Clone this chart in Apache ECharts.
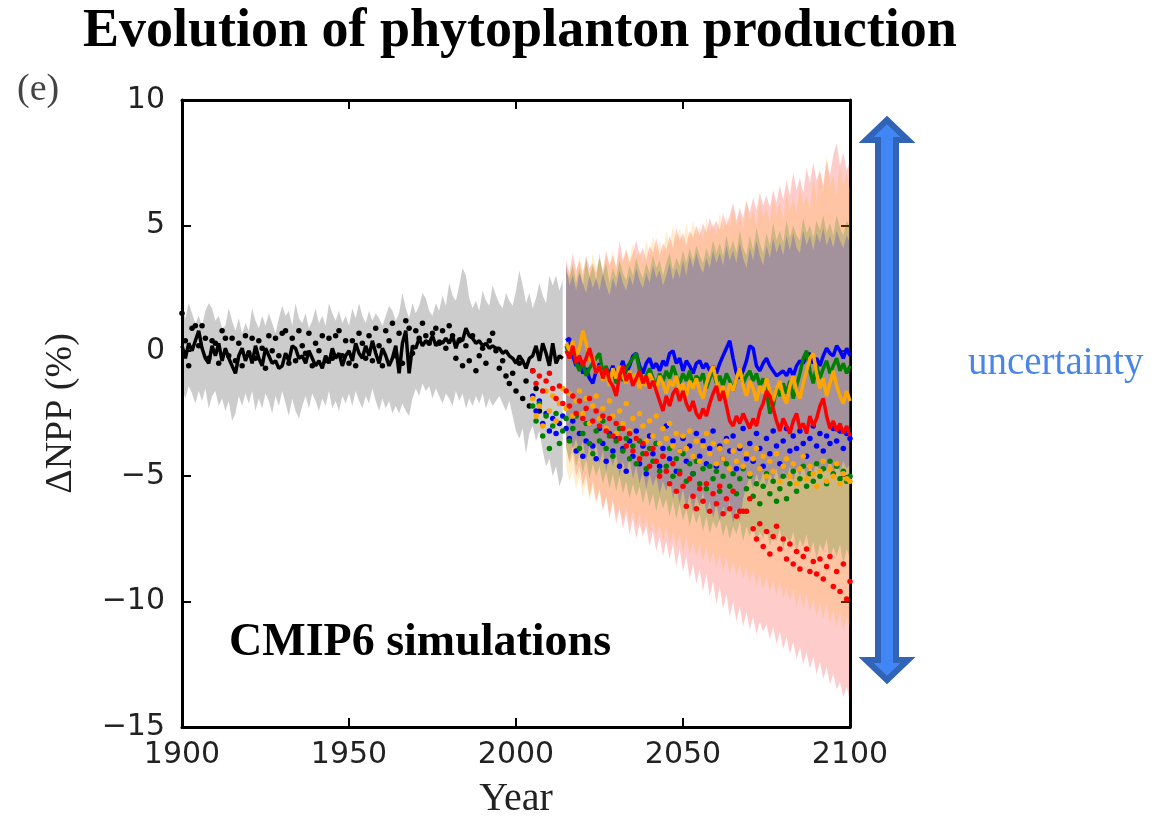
<!DOCTYPE html>
<html>
<head>
<meta charset="utf-8">
<script src="https://cdn.jsdelivr.net/npm/echarts@6/dist/echarts.min.js"></script>
<style>
html,body{margin:0;padding:0;background:#fff;}
#chart{width:1156px;height:827px;}
</style>
</head>
<body>
<div id="chart"></div>
<script>
// ---------- DATA ----------
const histStart = 1900;      // historical period 1900-2014
const futStart = 2015;       // projections 2015-2100
const dotStart = 2005;       // scenario dots 2005-2100
const xTicks = [1900, 1950, 2000, 2050, 2100];
const yTicks = [-15, -10, -5, 0, 5, 10];

const histLine = [0.2,-0.3,0.3,0.0,0.4,0.8,0.1,-0.3,-0.5,0.2,
 -0.2,0.3,-0.4,0.1,-0.3,-0.6,-0.9,-0.2,0.1,-0.4,
 0.0,-0.5,0.2,-0.3,-0.6,0.1,-0.2,-0.5,-0.4,-0.7,
 -0.6,-0.1,-0.4,0.2,0.1,-0.3,-0.2,-0.5,0.0,-0.3,
 -0.6,-0.4,-0.7,-0.2,-0.5,0.1,-0.3,-0.1,-0.6,-0.2,
 0.0,-0.4,0.3,-0.1,-0.3,0.2,-0.2,0.4,-0.1,-0.5,
 0.1,-0.2,-0.6,-0.3,0.2,-0.9,0.3,0.8,-0.9,0.2,
 0.1,0.5,0.2,0.4,0.3,0.6,0.2,0.4,0.3,0.5,
 0.3,0.6,0.1,0.5,0.4,0.9,0.6,0.5,0.3,0.4,
 0.2,0.3,0.1,0.2,0.1,0.1,-0.1,0.0,-0.2,-0.3,
 -0.5,-0.2,-0.4,-0.7,-0.3,-0.2,0.2,-0.4,0.3,-0.1,
 -0.6,0.3,-0.5,-0.2,-0.3];
const histUp = [1.8,1.3,1.9,1.5,1.1,1.4,1.0,1.6,1.9,1.7,
 1.2,1.4,0.9,1.0,1.7,1.2,0.8,1.3,0.7,1.1,
 0.8,1.7,1.2,0.9,1.4,1.0,1.5,1.1,0.7,1.3,
 1.8,1.4,1.6,1.0,1.9,1.3,1.1,1.5,0.9,1.2,
 1.7,1.1,1.4,1.0,1.9,1.5,1.2,1.6,1.1,1.4,
 1.0,1.7,1.3,1.9,1.4,1.1,1.6,1.2,1.5,1.3,
 1.0,1.4,1.8,1.6,1.2,1.5,2.3,1.7,1.3,1.9,
 1.5,1.8,2.3,2.1,1.6,1.4,1.9,1.6,2.2,1.8,
 2.7,2.2,2.0,2.6,3.3,3.0,2.1,1.7,2.0,1.6,
 2.4,2.0,1.8,2.6,2.2,1.9,1.7,2.3,2.0,1.8,
 2.4,3.2,2.6,1.9,2.3,1.7,2.1,2.7,2.2,1.9,
 3.0,2.6,3.0,2.4,2.8];
const histLo = [-1.5,-1.9,-1.4,-1.7,-2.1,-1.6,-2.0,-1.5,-2.3,-1.8,
 -1.6,-2.2,-1.9,-2.4,-2.0,-2.8,-2.5,-1.8,-2.2,-1.7,
 -2.1,-1.6,-2.4,-1.9,-2.3,-1.7,-2.0,-2.5,-1.8,-2.2,
 -1.6,-2.1,-2.6,-1.9,-2.4,-2.7,-2.2,-1.8,-2.3,-1.7,
 -2.0,-2.4,-1.9,-2.2,-1.6,-2.3,-2.0,-2.4,-1.8,-2.1,
 -1.7,-2.2,-1.6,-2.0,-2.3,-1.8,-2.1,-1.5,-2.0,-2.4,
 -1.9,-2.3,-2.0,-2.5,-2.2,-2.5,-2.1,-2.4,-2.6,-1.9,
 -1.5,-1.8,-1.3,-1.6,-1.4,-1.9,-1.5,-1.8,-2.1,-1.7,
 -1.9,-2.2,-1.6,-2.0,-1.7,-2.3,-1.9,-2.2,-1.8,-2.1,
 -1.7,-2.3,-1.9,-2.2,-2.0,-1.8,-2.1,-2.4,-2.0,-2.6,
 -3.2,-3.5,-3.1,-4.1,-3.3,-3.0,-3.6,-3.2,-4.0,-4.6,
 -4.3,-5.0,-4.6,-5.4,-5.0];
const histDots = [1.5,0.4,-0.6,0.9,1.0,0.2,1.0,0.5,-0.3,0.4,
 0.3,-0.5,0.8,0.5,-0.2,0.5,-0.4,0.3,-0.6,0.6,
 -0.1,0.5,-0.3,0.4,0.1,-0.7,0.6,0.0,0.5,-0.2,
 0.7,0.8,-0.5,0.5,-0.4,0.8,0.2,-0.1,0.7,-0.6,
 0.3,0.0,0.6,-0.4,0.5,-0.3,0.6,0.8,-0.2,0.4,
 -0.5,0.4,-0.6,0.7,0.3,-0.3,0.6,-0.4,0.9,0.2,
 -0.6,0.8,0.4,1.1,-0.2,0.7,-0.5,1.2,0.9,-0.1,
 0.8,0.5,1.1,0.6,0.3,0.7,0.9,0.3,0.8,0.1,
 1.0,0.6,-0.3,0.4,-0.6,0.2,-0.4,0.6,-0.8,-0.2,
 0.1,-0.5,0.4,0.7,0.0,-0.7,-0.4,-1.0,-1.3,-0.9,
 -1.6,-0.5,-1.9,-1.2,-2.2,-0.8,-1.5,-2.4];

const blueLine = [0.4,0.5,-0.2,-0.6,-0.3,-0.9,-0.7,-1.1,-1.3,-0.8,
 -0.5,-1.0,-0.7,-0.9,-0.6,-1.0,-0.8,-0.4,-0.9,-0.6,
 -0.2,-0.1,-0.6,-0.9,-0.5,-0.3,-0.7,-0.5,-0.8,-0.4,
 -0.6,-0.1,0.0,-0.5,-0.3,-0.8,-0.4,-0.6,-0.9,-0.5,
 -0.4,-0.7,-0.5,-0.8,-0.6,-0.9,-0.5,-0.2,0.1,0.4,
 -0.3,-0.9,-1.1,-0.8,-0.4,0.2,0.1,-0.6,-0.8,-0.5,
 -0.3,-0.6,-0.8,-1.0,-0.9,-0.8,-1.0,-0.7,-1.0,-0.6,
 -0.4,-0.5,-0.2,-0.1,-0.5,-0.3,-0.6,-0.2,0.1,-0.1,
 -0.2,0.2,0.0,-0.3,0.1,-0.2];
const greenLine = [0.2,-0.3,0.1,-0.5,-0.8,-0.4,-1.0,-0.7,-0.5,-0.3,
 -0.1,-0.9,-0.6,-1.1,-0.8,-1.3,-0.9,-1.2,-0.7,-0.5,
 -0.3,-0.1,-0.8,-1.2,-1.0,-0.7,-1.1,-1.4,-0.9,-1.2,
 -0.8,-1.1,-0.6,-1.0,-1.3,-0.9,-1.2,-0.8,-1.4,-1.0,
 -1.2,-0.9,-1.5,-1.1,-0.8,-1.3,-1.0,-1.4,-0.9,-1.2,
 -1.6,-1.1,-0.7,-1.3,-1.0,-0.8,-1.2,-0.9,-1.4,-1.1,
 -1.6,-2.5,-2.2,-1.5,-1.8,-1.3,-1.7,-1.2,-1.9,-1.4,
 -0.9,-0.3,0.0,-0.8,-1.3,-0.6,-1.1,-0.7,-0.4,-0.9,
 -0.6,-0.3,-0.8,-0.5,-0.9,-0.6];
const orangeLine = [0.3,0.0,0.4,-0.2,0.1,0.8,0.3,-0.4,-0.2,-0.9,
 -0.6,-1.2,-0.8,-1.4,-0.7,-1.1,-0.6,-1.0,-1.3,-0.8,
 -1.2,-0.9,-1.5,-1.1,-1.4,-0.9,-1.2,-1.6,-1.0,-1.3,
 -1.7,-1.2,-1.4,-1.0,-1.6,-1.3,-1.8,-1.2,-1.5,-1.1,
 -1.6,-1.9,-1.3,-0.9,-0.6,-1.2,-1.7,-1.4,-1.9,-1.3,
 -1.6,-1.1,-0.7,-1.4,-1.8,-1.2,-1.5,-2.0,-1.4,-1.7,
 -1.1,-1.6,-2.0,-1.5,-1.2,-1.8,-2.1,-1.4,-1.0,-1.6,
 -1.9,-1.3,-0.8,-0.3,-0.1,-0.9,-1.5,-1.1,-1.8,-1.3,
 -0.8,-1.4,-1.8,-2.1,-1.6,-2.0];
const redLine = [0.0,-0.3,0.2,-0.5,-0.2,-0.6,-0.3,0.1,-0.4,-0.9,
 -0.6,-1.1,-0.7,-1.2,-1.4,-1.8,-1.0,-0.6,-1.2,-0.9,
 -1.4,-1.1,-0.8,-1.3,-1.0,-1.5,-1.2,-1.6,-2.0,-2.4,
 -1.8,-2.2,-1.7,-1.5,-2.0,-1.6,-2.1,-2.4,-2.0,-2.5,
 -2.7,-2.3,-2.6,-2.1,-1.7,-1.4,-2.0,-1.6,-2.2,-2.8,
 -3.0,-2.6,-2.9,-2.5,-2.8,-3.1,-2.7,-3.0,-2.4,-2.1,
 -1.6,-1.8,-2.3,-2.8,-3.2,-2.7,-3.0,-3.3,-2.8,-2.5,
 -3.1,-2.9,-3.3,-2.6,-3.0,-2.7,-2.2,-1.9,-2.6,-3.1,
 -2.8,-3.2,-2.9,-3.3,-3.0,-3.4];

const blueDots = [-1.8,-2.4,-2.0,-2.9,-2.5,-3.2,-2.7,-3.3,-2.9,-2.6,
 -3.1,-3.5,-2.8,-4.0,-3.3,-4.2,-3.6,-2.9,-3.8,-4.3,
 -3.1,-3.7,-4.4,-3.3,-4.0,-3.5,-4.6,-3.9,-4.8,-3.6,
 -4.2,-3.2,-4.5,-3.8,-4.9,-3.4,-4.1,-3.7,-4.6,-3.9,
 -3.0,-4.3,-3.6,-4.8,-4.0,-3.5,-4.4,-3.8,-4.9,-3.3,
 -4.2,-3.6,-4.5,-3.9,-3.2,-4.6,-3.8,-4.3,-3.5,-4.0,
 -3.4,-4.7,-3.9,-3.1,-4.3,-3.7,-4.4,-3.3,-3.9,-4.6,
 -3.5,-4.1,-3.2,-3.8,-4.5,-3.6,-3.1,-4.0,-3.4,-3.9,
 -3.2,-3.7,-4.2,-3.5,-3.0,-3.8,-3.3,-4.0,-3.4,-3.7,
 -3.1,-3.6,-3.2,-3.9,-3.3,-3.5];
const greenDots = [-2.2,-2.8,-2.1,-3.4,-2.6,-3.9,-3.0,-2.5,-3.7,-3.2,
 -2.7,-3.6,-3.1,-2.6,-3.9,-3.3,-2.9,-3.7,-4.1,-3.2,
 -3.6,-2.8,-3.9,-3.4,-4.2,-3.6,-3.1,-4.0,-3.5,-4.3,
 -3.8,-4.5,-3.6,-4.1,-4.7,-3.9,-4.4,-3.7,-4.8,-4.2,
 -4.6,-3.9,-5.0,-4.3,-4.8,-4.1,-5.2,-4.5,-4.9,-4.4,
 -5.3,-4.7,-5.5,-4.6,-5.1,-4.8,-5.6,-5.0,-4.5,-5.4,
 -4.9,-5.7,-5.1,-4.7,-5.5,-5.0,-5.8,-5.3,-6.1,-5.4,
 -4.9,-5.7,-5.2,-6.0,-5.5,-5.0,-5.9,-5.3,-4.8,-5.6,
 -5.1,-4.6,-5.4,-4.9,-5.2,-4.5,-5.0,-4.7,-5.3,-4.4,
 -4.9,-4.6,-5.1,-4.8,-5.2,-5.0];
const orangeDots = [-1.9,-2.6,-2.2,-3.0,-1.6,-2.4,-1.8,-2.8,-2.1,-1.5,
 -2.3,-1.7,-2.6,-2.0,-1.6,-2.5,-1.9,-2.9,-2.2,-1.8,
 -2.7,-2.3,-3.1,-2.0,-2.6,-3.3,-2.4,-2.9,-2.1,-3.2,
 -2.7,-3.5,-2.5,-3.0,-3.6,-2.8,-3.4,-2.6,-3.7,-3.1,
 -3.5,-2.9,-3.8,-3.3,-4.0,-3.4,-3.9,-3.2,-4.2,-3.6,
 -4.4,-3.8,-3.3,-4.1,-3.7,-4.5,-3.9,-4.3,-3.6,-4.7,
 -4.0,-4.4,-3.8,-4.6,-4.1,-4.9,-4.3,-3.9,-4.7,-4.2,
 -5.0,-4.4,-4.8,-4.1,-5.2,-4.6,-4.3,-5.0,-4.5,-5.3,
 -4.7,-4.2,-5.1,-4.6,-4.9,-5.4,-4.8,-4.4,-5.2,-4.7,
 -5.0,-4.5,-5.3,-4.9,-5.1,-5.2];
const redDots = [-0.8,-1.3,-1.0,-1.6,-1.2,-0.9,-1.5,-1.9,-1.4,-2.1,
 -1.6,-2.2,-1.8,-2.5,-2.0,-2.7,-2.3,-1.9,-2.8,-2.4,
 -3.0,-2.6,-3.2,-2.7,-3.4,-2.9,-3.5,-3.1,-3.8,-3.3,
 -4.0,-3.5,-4.3,-3.7,-4.1,-4.6,-3.9,-4.4,-5.0,-4.2,
 -4.8,-5.3,-4.5,-5.6,-4.9,-5.4,-6.2,-5.1,-5.8,-6.3,
 -5.5,-6.0,-5.3,-6.4,-5.7,-6.1,-5.4,-6.5,-5.9,-6.3,
 -5.6,-6.6,-6.4,-6.4,-6.4,-5.9,-7.1,-7.5,-6.9,-7.8,
 -7.2,-8.1,-7.4,-7.0,-7.9,-7.5,-8.3,-7.7,-8.5,-8.0,
 -8.7,-8.2,-7.9,-8.8,-8.4,-8.9,-8.3,-9.1,-8.6,-8.2,
 -9.4,-8.8,-9.6,-8.5,-9.9,-9.2];

const blueUp = [3.4,2.6,3.0,2.4,3.1,2.7,2.3,3.0,2.5,2.9,
 2.4,3.1,2.6,2.2,2.9,2.5,3.2,2.7,2.4,3.0,
 2.6,3.3,2.8,2.5,3.1,2.7,3.4,2.9,3.2,2.6,
 3.0,3.5,2.8,3.3,2.9,3.6,3.0,3.8,3.3,3.9,
 3.4,3.1,3.7,3.3,4.0,3.5,3.9,3.4,4.2,3.6,
 4.0,3.5,4.3,3.7,3.3,4.1,3.6,4.4,3.8,3.4,
 4.2,3.7,4.5,3.9,4.3,3.8,4.6,4.0,4.7,4.1,
 3.9,4.8,4.2,4.6,4.0,4.7,4.3,4.9,4.2,4.6,
 4.1,4.8,4.4,4.1,4.6,4.3];
const blueLo = [-3.7,-3.3,-3.9,-3.5,-4.1,-3.6,-4.4,-3.8,-4.2,-3.7,
 -4.5,-4.0,-4.8,-4.2,-4.6,-4.1,-5.0,-4.4,-4.9,-4.3,
 -5.1,-4.6,-5.3,-4.8,-5.5,-4.9,-5.4,-5.0,-5.7,-5.2,
 -5.6,-5.1,-5.9,-5.4,-6.1,-5.5,-6.3,-5.7,-6.4,-5.8,
 -6.2,-5.6,-6.5,-6.0,-6.7,-6.1,-6.8,-6.2,-6.6,-6.0,
 -6.9,-6.3,-6.8,-5.9,-5.4,-5.0,-5.5,-4.9,-5.3,-4.8,
 -5.4,-4.9,-5.2,-4.7,-5.3,-4.8,-5.1,-4.6,-5.2,-4.7,
 -5.0,-4.5,-5.1,-4.6,-4.9,-4.4,-5.0,-4.6,-4.8,-4.3,
 -4.9,-4.5,-4.8,-4.4,-4.7,-4.5];
const greenUp = [3.2,2.9,3.4,2.7,3.3,2.6,3.7,2.9,3.4,2.8,
 3.9,3.0,3.5,2.7,3.3,2.9,3.6,3.1,2.8,3.4,
 3.0,3.7,3.2,2.9,3.5,3.1,3.8,3.3,3.6,3.0,
 3.5,3.9,3.2,3.7,3.4,4.0,3.5,4.1,3.6,4.2,
 3.8,3.5,4.1,3.7,4.4,3.9,4.3,3.8,4.6,4.0,
 4.4,3.9,4.8,4.1,3.8,4.6,4.0,4.9,4.3,3.9,
 4.7,4.2,5.1,4.4,4.8,4.3,5.2,4.5,5.0,4.6,
 4.4,5.3,4.7,5.0,4.5,5.2,4.8,5.4,4.7,5.1,
 4.6,5.4,4.9,4.6,5.2,4.9];
const greenLo = [-3.9,-4.4,-3.8,-4.6,-4.1,-4.9,-4.3,-5.1,-4.5,-5.0,
 -4.6,-5.3,-4.8,-5.5,-4.9,-5.6,-5.0,-5.7,-5.2,-5.9,
 -5.3,-5.8,-5.4,-6.1,-5.5,-6.2,-5.7,-6.4,-5.8,-6.3,
 -5.9,-6.6,-6.0,-6.7,-6.1,-6.8,-6.3,-7.0,-6.4,-6.9,
 -6.5,-7.2,-6.6,-7.3,-6.8,-7.1,-6.7,-7.4,-6.9,-7.5,
 -7.0,-7.3,-6.8,-7.6,-7.0,-7.4,-6.9,-7.7,-7.2,-7.5,
 -7.0,-7.8,-7.3,-7.6,-7.1,-7.9,-7.4,-7.7,-7.2,-8.0,
 -7.5,-7.8,-7.3,-8.1,-7.6,-8.3,-7.7,-8.0,-7.5,-8.4,
 -7.8,-8.2,-7.7,-8.5,-7.9,-8.3];
const orangeUp = [3.5,3.0,3.6,2.9,3.8,3.2,3.5,3.0,3.9,3.3,
 3.7,3.1,3.8,3.4,4.0,3.3,3.9,3.5,4.1,3.6,
 4.3,3.7,4.0,3.5,4.4,3.8,4.6,4.0,4.4,3.9,
 4.8,4.2,5.0,4.4,4.9,4.3,5.1,4.5,5.2,4.6,
 5.0,4.4,5.3,4.7,5.1,4.6,5.5,4.8,5.4,4.9,
 5.7,5.0,5.5,4.8,5.9,5.2,5.6,5.0,6.0,5.3,
 5.7,5.1,6.2,5.4,5.9,5.2,6.3,5.6,6.1,5.5,
 6.5,5.8,6.2,5.6,6.9,6.0,7.2,6.3,7.8,6.5,
 7.0,6.2,7.4,6.6,7.1,6.4];
const orangeLo = [-4.6,-5.2,-4.8,-5.5,-5.0,-5.8,-5.2,-6.0,-5.4,-6.1,
 -5.6,-6.3,-5.8,-6.5,-5.9,-6.6,-6.1,-6.8,-6.2,-6.9,
 -6.4,-7.0,-6.5,-7.2,-6.6,-7.3,-6.8,-7.4,-6.9,-7.6,
 -7.0,-7.7,-7.2,-7.8,-7.3,-8.0,-7.4,-8.1,-7.6,-8.2,
 -7.7,-8.4,-7.8,-8.5,-8.0,-8.6,-8.1,-8.8,-8.2,-8.9,
 -8.4,-9.0,-8.5,-9.1,-8.6,-9.3,-8.7,-9.4,-8.9,-9.5,
 -9.0,-9.6,-9.1,-9.8,-9.2,-9.9,-9.4,-10.0,-9.5,-10.2,
 -9.6,-10.3,-9.7,-10.4,-9.9,-10.6,-10.0,-10.7,-10.1,-10.9,
 -10.3,-11.0,-10.4,-11.2,-10.6,-11.0];
const redUp = [3.6,3.1,3.9,3.2,3.6,3.0,3.8,3.3,3.5,3.1,
 3.7,3.2,4.0,3.4,3.8,3.3,4.4,3.6,4.0,3.5,
 3.9,4.4,3.8,4.1,3.6,4.2,3.9,4.5,3.8,4.3,
 4.0,4.6,4.1,4.9,4.4,4.7,4.2,4.8,4.5,5.0,
 4.6,5.1,4.7,5.3,4.9,5.2,4.8,5.5,5.0,5.4,
 5.9,5.2,5.7,5.3,6.0,5.5,6.1,5.6,6.3,5.8,
 6.2,5.7,6.4,5.9,6.6,6.0,6.8,6.2,7.1,6.4,
 6.9,6.3,7.3,6.7,7.5,6.8,7.2,6.6,7.6,7.0,
 7.8,8.3,7.4,7.9,7.2,7.6];
const redLo = [-3.8,-4.5,-4.1,-5.0,-4.6,-5.4,-4.9,-5.8,-5.2,-6.0,
 -5.5,-6.4,-5.8,-6.7,-6.0,-6.9,-6.3,-7.1,-6.5,-7.3,
 -6.7,-7.5,-6.9,-7.4,-7.0,-7.8,-7.2,-8.0,-7.4,-8.2,
 -7.6,-8.3,-7.7,-8.6,-7.9,-8.8,-8.2,-9.1,-8.5,-9.3,
 -8.7,-9.6,-8.9,-9.8,-9.2,-10.1,-9.4,-10.3,-9.7,-10.6,
 -10.0,-10.8,-10.2,-11.0,-10.4,-11.1,-10.6,-11.3,-10.8,-11.2,
 -10.9,-11.5,-11.0,-11.7,-11.2,-11.9,-11.4,-12.1,-11.6,-12.3,
 -11.8,-12.5,-12.0,-12.7,-12.2,-12.9,-12.4,-13.1,-12.6,-13.3,
 -12.9,-13.5,-13.2,-13.8,-13.4,-14.0];

// ---------- CHART ----------
const pairs = (start, vals) => vals.map((v, i) => [start + i, v]);
const serifFont = '"Liberation Serif", "DejaVu Serif", serif';
const sansFont = '"DejaVu Sans", sans-serif';
const minus = v => (v < 0 ? '\u2212' + Math.abs(v) : String(v));

function band(name, start, lo, up, fill, z) {
  return {
    type: 'custom', name: name, silent: true, z: z,
    coordinateSystem: 'cartesian2d',
    data: lo.map((v, i) => [start + i, v, up[i]]),
    encode: { x: 0, y: [1, 2] },
    renderItem: function (params, api) {
      if (params.dataIndex !== 0) return null;
      const pts = [];
      for (let i = 0; i < up.length; i++) pts.push(api.coord([start + i, up[i]]));
      for (let i = lo.length - 1; i >= 0; i--) pts.push(api.coord([start + i, lo[i]]));
      return { type: 'polygon', shape: { points: pts }, style: { fill: fill } };
    }
  };
}
function line(name, start, vals, color, width, z) {
  return { type: 'line', name: name, data: pairs(start, vals), showSymbol: false, symbol: 'none',
    lineStyle: { color: color, width: width }, itemStyle: { color: color }, z: z, silent: true };
}
function dots(name, start, vals, color, z) {
  return { type: 'scatter', name: name, data: pairs(start, vals), symbolSize: 5.5,
    itemStyle: { color: color, opacity: 1 }, z: z, silent: true };
}

const axisLine = { show: true, onZero: false, lineStyle: { color: '#000', width: 3 } };
const axisTick = { show: true, inside: true, length: 9, lineStyle: { color: '#000', width: 2 } };

const chart = echarts.init(document.getElementById('chart'), null, { renderer: 'canvas' });
chart.setOption({
  animation: false,
  backgroundColor: '#fff',
  grid: { left: 182, top: 100, width: 668, height: 627, containLabel: false },
  xAxis: [
    { type: 'value', min: xTicks[0], max: xTicks[xTicks.length - 1], interval: 50, position: 'bottom',
      axisLine: axisLine, axisTick: axisTick, splitLine: { show: false },
      axisLabel: { fontFamily: sansFont, fontSize: 30, color: '#222', margin: 13,
        formatter: v => String(v) },
      name: 'Year', nameLocation: 'middle', nameGap: 52,
      nameTextStyle: { fontFamily: serifFont, fontSize: 40, color: '#222' } },
    { type: 'value', min: xTicks[0], max: xTicks[xTicks.length - 1], interval: 50, position: 'top',
      axisLine: axisLine, axisTick: axisTick, splitLine: { show: false }, axisLabel: { show: false } }
  ],
  yAxis: [
    { type: 'value', min: yTicks[0], max: yTicks[yTicks.length - 1], interval: 5, position: 'left',
      axisLine: axisLine, axisTick: axisTick, splitLine: { show: false },
      axisLabel: { fontFamily: sansFont, fontSize: 30, color: '#222', margin: 17, formatter: minus },
      name: '\u0394NPP (%)', nameLocation: 'middle', nameGap: 102, nameRotate: 90,
      nameTextStyle: { fontFamily: serifFont, fontSize: 38, color: '#222' } },
    { type: 'value', min: yTicks[0], max: yTicks[yTicks.length - 1], interval: 5, position: 'right',
      axisLine: axisLine, axisTick: axisTick, splitLine: { show: false }, axisLabel: { show: false } }
  ],
  series: [
    band('hist band', histStart, histLo, histUp, 'rgba(0,0,0,0.2)', 1),
    band('red band', futStart, redLo, redUp, 'rgba(255,0,0,0.2)', 2),
    band('orange band', futStart, orangeLo, orangeUp, 'rgba(255,165,0,0.2)', 2),
    band('green band', futStart, greenLo, greenUp, 'rgba(0,128,0,0.2)', 2),
    band('blue band', futStart, blueLo, blueUp, 'rgba(0,0,255,0.2)', 2),
    dots('hist dots', histStart, histDots, '#000', 3),
    line('hist line', histStart, histLine, '#000', 3.5, 4),
    dots('blue dots', dotStart, blueDots, '#0000ff', 5),
    dots('green dots', dotStart, greenDots, '#008000', 5),
    dots('orange dots', dotStart, orangeDots, '#ffa500', 5),
    dots('red dots', dotStart, redDots, '#ff0000', 5),
    line('blue', futStart, blueLine, '#0000ff', 3.5, 6),
    line('green', futStart, greenLine, '#008000', 3.5, 6),
    line('orange', futStart, orangeLine, '#ffa500', 3.5, 6),
    line('red', futStart, redLine, '#ff0000', 3.5, 7)
  ],
  graphic: [
    { type: 'text', left: 83, top: 5, z: 10,
      style: { text: 'Evolution of phytoplanton production', font: 'bold 54px ' + serifFont, fill: '#000' } },
    { type: 'text', left: 17, top: 71, z: 10,
      style: { text: '(e)', font: '38px ' + serifFont, fill: '#444' } },
    { type: 'text', left: 229, top: 620, z: 10,
      style: { text: 'CMIP6 simulations', font: 'bold 46px ' + serifFont, fill: '#000' } },
    { type: 'text', left: 968, top: 344, z: 10,
      style: { text: 'uncertainty', font: '39px ' + serifFont, fill: '#4a86e8' } },
    { type: 'polygon', z: 10,
      shape: { points: [[887,120],[908,140],[896,140],[896,660],[908,660],[887,680],[866,660],[878,660],[878,140],[866,140]] },
      style: { fill: '#4285f4', stroke: '#3163b7', lineWidth: 6, lineJoin: 'miter' } }
  ]
});
</script>
</body>
</html>
